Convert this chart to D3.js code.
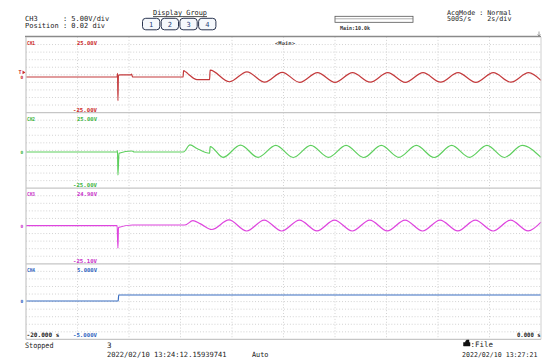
<!DOCTYPE html>
<html>
<head>
<meta charset="utf-8">
<script src="https://cdn.jsdelivr.net/npm/d3@7"></script>
<style>
  html, body { margin: 0; padding: 0; background: #fff; }
  svg { display: block; }
</style>
</head>
<body>
<svg id="chart" width="542" height="362"></svg>
<script>
// ---- Channel setup ----
const channels = ["CH1", "CH2", "CH3", "CH4"];
const traceColors = ["#c43a3c", "#5ecf5e", "#de45de", "#3b6fc2"];
const labelColors = ["#cc2a2a", "#3fb53f", "#c933c9", "#2f63c0"];
const scaleTopLabels = ["25.00V", "25.00V", "24.90V", "5.000V"];
const scaleBottomLabels = ["-25.00V", "-25.00V", "-25.10V", "-5.000V"];
const scaleTopValues = [25, 25, 24.9, 5];
const scaleBottomValues = [-25, -25, -25.1, -5];
const zeroMarkValues = [-1.45, -1.06, 0.1, 0.08];

// ---- Time axis (2 s/div, 10 div) ----
const timeDomain = [-20, 0];
const timeDivs = [-18, -16, -14, -12, -10, -8, -6, -4, -2];
const timeStartLabel = "-20.000 s";
const timeEndLabel = "0.000 s";

// ---- Recorded traces: time (s) and voltage (V) ----
const ch1Time = [-20, -16.46, -16.445, -16.43, -16.41, -16.33, -15.93, -15.90, -15.86, -13.90,
  -13.88, -13.79, -13.63, -13.48, -13.36, -12.87, -12.85, -12.10, -11.42, -10.73, -10.05,
  -9.37, -8.68, -8.00, -7.32, -6.63, -5.95, -5.27, -4.58, -3.90, -3.22, -2.53, -1.85, -1.17, -0.48, 0];
const ch1Volt = [-1.45, -1.45, 1.0, -17.1, -0.2, -0.1, -0.1, 0.5, -1.45, -1.45,
  2.7, 1.8, -0.5, -2.4, -3.2, -3.2, 3.1, -4.6, 2.0, -4.9, 1.6,
  -5.0, 1.4, -5.0, 1.4, -4.9, 1.4, -5.0, 1.4, -4.9, 1.4, -5.0, 1.4, -4.9, 1.4, -3.7];

const ch2Time = [-20, -16.46, -16.445, -16.43, -16.39, -15.88, -15.80, -13.89, -13.63, -13.36,
  -12.87, -12.85, -12.35, -11.67, -10.99, -10.30, -9.62, -8.94, -8.25, -7.57, -6.89, -6.20,
  -5.52, -4.84, -4.15, -3.47, -2.78, -2.10, -1.42, -0.73, 0];
const ch2Volt = [-1.06, -1.06, -0.2, -16.3, -1.9, -0.4, -1.06, -1.06, 3.6, 1.3,
  -1.9, 2.5, -4.6, 3.5, -4.6, 3.3, -4.7, 3.3, -4.6, 3.3, -4.7, 3.3,
  -4.6, 3.3, -4.7, 3.3, -4.6, 3.3, -4.7, 3.3, -4.6];

const ch3Time = [-20, -16.46, -16.43, -16.41, -15.86, -13.83, -13.52, -13.24, -12.78, -12.12,
  -11.43, -10.75, -10.07, -9.38, -8.70, -8.02, -7.33, -6.65, -5.97, -5.28, -4.60, -3.92,
  -3.23, -2.55, -1.86, -1.18, -0.50, 0];
const ch3Volt = [0.1, 0.1, -14.8, -1.1, 0.56, 0.56, 3.4, 1.5, -2.4, 3.9,
  -3.4, 3.8, -3.4, 3.8, -3.3, 3.8, -3.4, 3.8, -3.3, 3.8, -3.4, 3.8,
  -3.3, 3.8, -3.4, 3.8, -3.3, 2.5];

const ch4Time = [-20, -16.42, -16.40, 0];
const ch4Volt = [0.08, 0.08, 0.87, 0.87];

const traces = [
  [ch1Time, ch1Volt], [ch2Time, ch2Volt], [ch3Time, ch3Volt], [ch4Time, ch4Volt]
];

// ---- Layout ----
const plotLeft = 26, plotRight = 541, plotTop = 37, panelH = 75.6;
const mono = "'DejaVu Sans Mono', 'Liberation Mono', monospace";
const ink = "#222";

const svg = d3.select("#chart");
const x = d3.scaleLinear().domain(timeDomain).range([plotLeft, plotRight]);

function txt(xp, yp, s, size, fill, o = {}) {
  const t = svg.append("text")
    .attr("x", xp).attr("y", yp).text(s)
    .attr("font-family", mono).attr("font-size", size).attr("fill", fill);
  if (o.w) t.attr("textLength", o.w).attr("lengthAdjust", "spacingAndGlyphs");
  if (o.anchor) t.attr("text-anchor", o.anchor);
  if (o.bold) t.attr("font-weight", "bold");
  return t;
}

// two-line block drawn as one text element
function block(xp, y1, lines, size, fill, gap) {
  const t = svg.append("text")
    .attr("font-family", mono).attr("font-size", size).attr("fill", fill)
    .style("white-space", "pre");
  lines.forEach((s, k) => {
    t.append("tspan").attr("x", xp).attr("y", y1 + k * gap).text(s);
  });
  return t;
}

// ---- Header ----
block(25, 21.2, ["CH3      : 5.00V/div", "Position : 0.02 div"], 7, ink, 6.5);

txt(153, 15, "Display Group", 7, ink, { w: 54 });
svg.append("line").attr("x1", 153).attr("x2", 207).attr("y1", 16.6).attr("y2", 16.6)
  .attr("stroke", ink).attr("stroke-width", 0.8);

const groupButtons = ["1", "2", "3", "4"];
groupButtons.forEach((b, i) => {
  const bx = 142.5 + i * 18.7;
  svg.append("rect").attr("x", bx).attr("y", 18.3).attr("width", 17.3).attr("height", 11.5)
    .attr("rx", 3.2).attr("fill", "#f5f8fc").attr("stroke", "#2a3550").attr("stroke-width", 1);
  txt(bx + 8.65, 27.3, b, 7, "#1f3f7a", { anchor: "middle" });
});

// record-length bar
svg.append("rect").attr("x", 335).attr("y", 16.3).attr("width", 78).attr("height", 6)
  .attr("fill", "none").attr("stroke", "#555").attr("stroke-width", 0.8);
svg.append("line").attr("x1", 335).attr("x2", 413).attr("y1", 18.8).attr("y2", 18.8)
  .attr("stroke", "#777").attr("stroke-width", 0.6);
txt(340, 29.5, "Main:10.0k", 5.5, "#333", { w: 30, bold: true });

block(447, 14.6, ["AcqMode : Normal", "500S/s    2s/div"], 6.7, ink, 6.6);

// header rule and right-end marker
svg.append("line").attr("x1", 25).attr("x2", 541).attr("y1", 36.5).attr("y2", 36.5)
  .attr("stroke", "#8a8a8a").attr("stroke-width", 1.4);
svg.append("path").attr("d", "M539,31.5 L539,36 M537.6,34.4 L539,36 L540.4,34.4")
  .attr("stroke", "#777").attr("stroke-width", 0.7).attr("fill", "none");

txt(285, 45, "<Main>", 5, "#333", { w: 20, anchor: "middle", bold: true });

// ---- Panels ----
const gridColor = "#c2c2c2";
channels.forEach((ch, i) => {
  const top = plotTop + i * panelH;
  const bottom = top + panelH;
  const y = d3.scaleLinear().domain([scaleBottomValues[i], scaleTopValues[i]]).range([bottom, top]);
  const g = svg.append("g");

  // dotted horizontal divisions (10 per panel)
  const span = scaleTopValues[i] - scaleBottomValues[i];
  const rows = d3.range(1, 10).map(k => scaleBottomValues[i] + k * span / 10);
  g.selectAll("line.row").data(rows).join("line")
    .attr("x1", plotLeft).attr("x2", plotRight)
    .attr("y1", d => y(d)).attr("y2", d => y(d))
    .attr("stroke", gridColor).attr("stroke-width", 0.8).attr("stroke-dasharray", "0.9 2");

  // dotted vertical divisions
  g.selectAll("line.col").data(timeDivs).join("line")
    .attr("x1", d => x(d)).attr("x2", d => x(d))
    .attr("y1", top).attr("y2", bottom)
    .attr("stroke", gridColor).attr("stroke-width", 0.8).attr("stroke-dasharray", "0.9 2");

  // panel divider
  if (i > 0) {
    g.append("line").attr("x1", plotLeft).attr("x2", plotRight)
      .attr("y1", top).attr("y2", top).attr("stroke", "#c6c6c6").attr("stroke-width", 1.3);
  }

  // channel name and scale limits
  txt(27, top + 8, ch, 5.5, labelColors[i], { w: 8, bold: true });
  txt(77, top + 8, scaleTopLabels[i], 5.5, labelColors[i], { w: 20, bold: true });
  if (i < 3) {
    txt(97, bottom - 1, scaleBottomLabels[i], 5.5, labelColors[i], { w: 24, anchor: "end", bold: true });
  }

  // zero-position marker at the left margin
  txt(20.5, y(zeroMarkValues[i]) + 2, "0", 4.5, labelColors[i], { bold: true });

  // waveform
  const [tArr, vArr] = traces[i];
  const pts = tArr.map((t, k) => [t, vArr[k]]);
  const line = d3.line().x(d => x(d[0])).y(d => y(d[1])).curve(d3.curveMonotoneX);
  g.append("path").datum(pts).attr("d", line)
    .attr("fill", "none").attr("stroke", traceColors[i]).attr("stroke-width", 1.2)
    .attr("stroke-linejoin", "round");

  if (i === 0) {
    // trigger-level marker
    txt(18.5, y(1.6) + 2, "T", 5, labelColors[0], { bold: true });
    svg.append("path")
      .attr("d", `M22.5,${y(1.6) - 1.8} L25.5,${y(1.6)} L22.5,${y(1.6) + 1.8} Z`)
      .attr("fill", labelColors[0]);
  }
});

// plot frame (left, right, bottom)
const plotBottom = plotTop + 4 * panelH;
svg.append("line").attr("x1", plotLeft).attr("x2", plotLeft).attr("y1", plotTop).attr("y2", plotBottom)
  .attr("stroke", "#c6c6c6").attr("stroke-width", 1.2);
svg.append("line").attr("x1", plotRight).attr("x2", plotRight).attr("y1", plotTop).attr("y2", plotBottom)
  .attr("stroke", "#d0d0d0").attr("stroke-width", 1);
svg.append("line").attr("x1", plotLeft).attr("x2", plotRight).attr("y1", plotBottom).attr("y2", plotBottom)
  .attr("stroke", "#c6c6c6").attr("stroke-width", 1.3);

// time limits and CH4 lower limit
txt(26.5, 336.5, timeStartLabel, 6, ink, { w: 33, bold: true });
txt(97, 336.5, scaleBottomLabels[3], 5.5, labelColors[3], { w: 24, anchor: "end", bold: true });
txt(540.5, 337, timeEndLabel, 6, ink, { w: 23.5, anchor: "end", bold: true });

// ---- Footer ----
txt(25, 347.5, "Stopped", 7.5, ink, { w: 28.5 });
txt(107, 347.5, "3", 7.5, ink);
txt(107, 356.8, "2022/02/10 13:24:12.15939741", 7.1, ink);
txt(252, 356.8, "Auto", 7.2, ink, { w: 16.5 });
// save-destination icon
svg.append("path")
  .attr("d", "M463.5,346 L463.5,342.5 L465,342.5 L466.5,340 L469,340 L469,342.5 L470,342.5 L470,346 Z M464.3,344 L469.2,344")
  .attr("fill", "#111").attr("stroke", "#111").attr("stroke-width", 0.5);
txt(470.5, 346.8, ":File", 7.5, ink, { w: 22.5 });
txt(462, 356.8, "2022/02/10 13:27:21", 6.6, ink);
</script>
</body>
</html>
